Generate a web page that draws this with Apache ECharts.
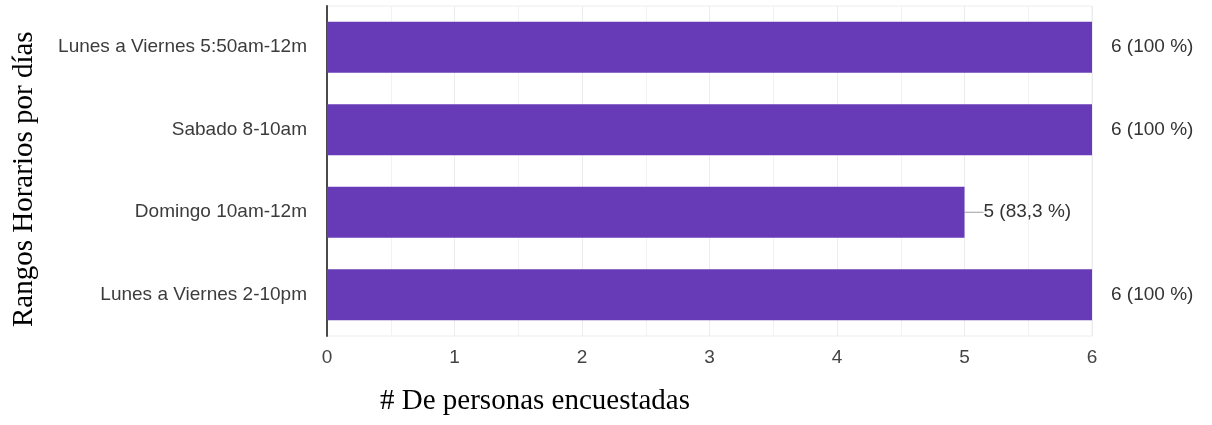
<!DOCTYPE html>
<html><head><meta charset="utf-8">
<script src="https://cdn.jsdelivr.net/npm/echarts@6/dist/echarts.min.js"></script>
<style>html,body{margin:0;padding:0;background:#fff}#c{width:1212px;height:425px}</style>
</head><body><div id="c"></div>
<script>
const categories = ['Lunes a Viernes 5:50am-12m', 'Sabado 8-10am', 'Domingo 10am-12m', 'Lunes a Viernes 2-10pm'];
const values = [6, 6, 5, 6];
const labels = ['6 (100 %)', '6 (100 %)', '5 (83,3 %)', '6 (100 %)'];
const xTicks = [0, 1, 2, 3, 4, 5, 6];
const xTitle = '# De personas encuestadas';
const yTitle = 'Rangos Horarios por días';

const maxV = Math.max(...values);
const chart = echarts.init(document.getElementById('c'));
chart.setOption({
  animation: false,
  grid: {left: 327, right: 120, top: 6, bottom: 89, show: true, borderColor: '#ececec', borderWidth: 1},
  xAxis: {
    type: 'value', min: xTicks[0], max: xTicks[xTicks.length - 1], interval: 1,
    axisLine: {show: false}, axisTick: {show: false},
    axisLabel: {color: '#444', fontSize: 19, fontFamily: 'Liberation Sans, Arial', margin: 12},
    splitLine: {show: true, lineStyle: {color: '#ececec'}},
    minorTick: {show: false, splitNumber: 2},
    minorSplitLine: {show: true, lineStyle: {color: '#f2f2f2'}}
  },
  yAxis: {
    type: 'category', data: categories, inverse: true,
    axisLine: {show: true, lineStyle: {color: '#4a4a4a', width: 2}},
    axisTick: {show: false},
    axisLabel: {color: '#3c3c3c', fontSize: 19, fontFamily: 'Liberation Sans, Arial', margin: 20}
  },
  series: [{
    type: 'bar', barCategoryGap: '38%',
    itemStyle: {color: '#673ab7'},
    data: values.map((v, i) => ({
      value: v,
      label: {formatter: labels[i]},
      labelLine: {show: v < maxV, lineStyle: {color: '#9e9e9e', width: 1}}
    })),
    label: {show: true, position: 'right', distance: 0, color: '#333', fontSize: 19, fontFamily: 'Liberation Sans, Arial'},
    labelLayout: {dx: 19},
    labelLine: {show: false}
  }],
  graphic: [
    {type: 'text', left: 380, top: 387, style: {text: xTitle, font: '29px "Liberation Serif", "Times New Roman", serif', fill: '#000'}},
    {type: 'text', x: 10, y: 327, rotation: Math.PI / 2, style: {text: yTitle, font: '29px "Liberation Serif", "Times New Roman", serif', fill: '#000', textVerticalAlign: 'top'}}
  ]
});
</script></body></html>
